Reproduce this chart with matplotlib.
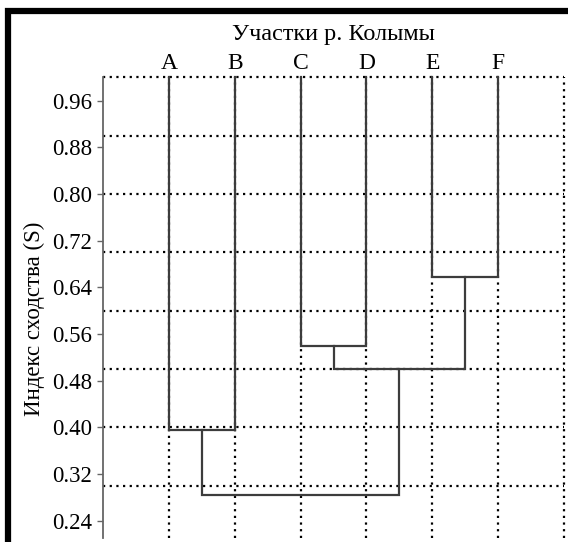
import matplotlib
matplotlib.use("Agg")
import matplotlib.pyplot as plt
from matplotlib.patches import Rectangle
import numpy as np

plt.rcParams['font.family'] = ['Liberation Serif', 'DejaVu Serif']

# Data
leaves = ['A', 'B', 'C', 'D', 'E', 'F']
# merges: (child1, child2, similarity) ; children 0..5 are leaves, 6+ are new nodes
merge_left = [0, 2, 4, 7, 6]
merge_right = [1, 3, 5, 8, 9]
merge_height = [0.395, 0.540, 0.657, 0.500, 0.283]
yticks = [0.24, 0.32, 0.40, 0.48, 0.56, 0.64, 0.72, 0.80, 0.88, 0.96]
ygrid = [0.3, 0.4, 0.5, 0.6, 0.7, 0.8, 0.9, 1.0]
title = 'Участки р. Колымы'
ylabel = 'Индекс сходства (S)'

W, H = 568, 542
fig = plt.figure(figsize=(W / 100, H / 100), dpi=100)
ax = fig.add_axes([103 / W, 1 - 538 / H, (564 - 103) / W, (538 - 77.3) / H])

ax.set_xlim(0, 7)
ax.set_ylim(0.21, 1.0)

# grid
dot = (0, (1, 2.0))
for g in ygrid:
    ax.axhline(g, color='black', lw=1.6, ls=dot, zorder=1, clip_on=False)
for xg in range(1, 8):
    ax.axvline(xg, color='black', lw=1.6, ls=dot, zorder=1, clip_on=False)

# dendrogram
xs = {i: i + 1.0 for i in range(len(leaves))}
ys = {i: 1.0 for i in range(len(leaves))}
lc = '#3c3c3c'
for k, (a, b, h) in enumerate(zip(merge_left, merge_right, merge_height)):
    node = len(leaves) + k
    xa, xb = xs[a], xs[b]
    ax.plot([xa, xa, xb, xb], [ys[a], h, h, ys[b]], color=lc, lw=1.6,
            solid_joinstyle='miter', zorder=3, clip_on=False)
    xs[node] = (xa + xb) / 2
    ys[node] = h

for s in ['top', 'right', 'bottom']:
    ax.spines[s].set_visible(False)
ax.spines['left'].set_color('#666666')
ax.spines['left'].set_linewidth(1.3)

ax.set_yticks(yticks)
ax.set_yticklabels([f'{t:.2f}' for t in yticks], fontsize=16.5)
ax.tick_params(axis='y', direction='out', length=4, width=1, color='#666666', pad=4)
ax.set_xticks([])

# leaf labels and title
for i, name in enumerate(leaves):
    ax.text(i + 1, 1.0 + 0.014, name, ha='center', va='baseline', fontsize=17)
ax.text(3.5, 1.0 + 0.064, title, ha='center', va='baseline', fontsize=17.5)

fig.text(34 / W, 1 - 319 / H, ylabel, rotation=90, ha='center', va='center', fontsize=16.5)

# black frame (left and top visible)
fig.patches.append(Rectangle((8 / W, -0.2), 2.0, 1.2 - 11 / H + 0.0, transform=fig.transFigure,
                             fill=False, edgecolor='black', lw=4.5, clip_on=False))

fig.savefig('out.png', dpi=100)
